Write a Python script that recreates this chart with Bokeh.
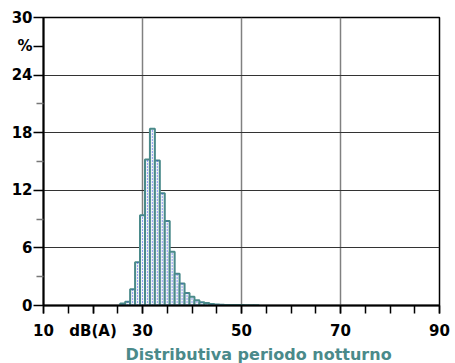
from bokeh.plotting import figure
from bokeh.models import FixedTicker, Title, ColumnDataSource
from bokeh.embed import file_html
from bokeh.resources import INLINE

# data
levels = [26, 27, 28, 29, 30, 31, 32, 33, 34, 35, 36, 37, 38, 39, 40,
          41, 42, 43, 44, 45, 46, 47, 48, 49, 50, 51, 52, 53]
percent = [0.2, 0.4, 1.7, 4.5, 9.4, 15.2, 18.4, 15.1, 11.7, 8.8, 5.6, 3.3, 2.3, 1.3, 0.9,
           0.55, 0.35, 0.25, 0.15, 0.1, 0.08, 0.06, 0.05, 0.05, 0.04, 0.03, 0.03, 0.02]
x_ticks = [10, 20, 30, 50, 70, 90]
x_labels = {10: "10", 20: "dB(A)", 30: "30", 50: "50", 70: "70", 90: "90"}
y_ticks = [0, 6, 12, 18, 24, 27, 30]
y_labels = {0: "0", 6: "6", 12: "12", 18: "18", 24: "24", 27: "%", 30: "30"}
title_text = "Distributiva periodo notturno"

TEAL = "#4a8a8a"
FONT = "DejaVu Sans"

p = figure(width=455, height=363, x_range=(10, 90), y_range=(0, 30),
           output_backend="svg", toolbar_location=None,
           min_border_left=43, min_border_top=17, min_border_right=16,
           min_border_bottom=10)
p.background_fill_color = "white"
p.border_fill_color = "white"
p.outline_line_color = "black"
p.outline_line_width = 1.5

# grid
p.xgrid.ticker = FixedTicker(ticks=[30, 50, 70])
p.xgrid.grid_line_color = "#808080"
p.xgrid.grid_line_width = 1.5
p.ygrid.ticker = FixedTicker(ticks=[6, 12, 18, 24])
p.ygrid.grid_line_color = "#333333"
p.ygrid.grid_line_width = 1.2

# x axis
xa = p.xaxis[0]
xa.ticker = FixedTicker(ticks=x_ticks, minor_ticks=list(range(10, 91, 5)))
xa.major_label_overrides = {k: v for k, v in x_labels.items()}
xa.axis_line_color = "black"
xa.axis_line_width = 2
xa.major_tick_out = 8
xa.major_tick_in = 0
xa.minor_tick_out = 8
xa.minor_tick_in = 0
xa.major_tick_line_color = "black"
xa.minor_tick_line_color = "black"
xa.major_tick_line_width = 1.5
xa.minor_tick_line_width = 1.5
xa.major_label_standoff = 8
xa.major_label_text_font = FONT
xa.major_label_text_font_style = "bold"
xa.major_label_text_font_size = "15px"
xa.major_label_text_color = "black"

# y axis
ya = p.yaxis[0]
ya.ticker = FixedTicker(ticks=y_ticks, minor_ticks=[3, 9, 15, 21])
ya.major_label_overrides = {k: v for k, v in y_labels.items()}
ya.axis_line_color = "black"
ya.axis_line_width = 2
ya.major_tick_out = 10
ya.major_tick_in = 0
ya.minor_tick_out = 7
ya.minor_tick_in = 0
ya.major_tick_line_color = "black"
ya.minor_tick_line_color = "#777777"
ya.major_tick_line_width = 1.5
ya.minor_tick_line_width = 1.5
ya.major_label_standoff = 1
ya.major_label_text_font = FONT
ya.major_label_text_font_style = "bold"
ya.major_label_text_font_size = "15px"
ya.major_label_text_color = "black"

# bars
src = ColumnDataSource(dict(
    left=[v - 0.5 for v in levels],
    right=[v + 0.5 for v in levels],
    x=levels,
    top=percent,
    bottom=[0] * len(levels),
))
p.quad(left="left", right="right", top="top", bottom="bottom", source=src,
       fill_color="#f2f4f7", line_color=TEAL, line_width=2)
p.segment(x0="x", y0="bottom", x1="x", y1="top", source=src,
          line_color="#3344ee", line_width=1, line_dash="1 2")

# title below
p.add_layout(Title(text=title_text, align="left", offset=82, standoff=0,
                   text_font=FONT, text_font_style="bold", text_font_size="16px",
                   text_color=TEAL), "below")

open("out.html", "w").write(file_html(p, INLINE))
